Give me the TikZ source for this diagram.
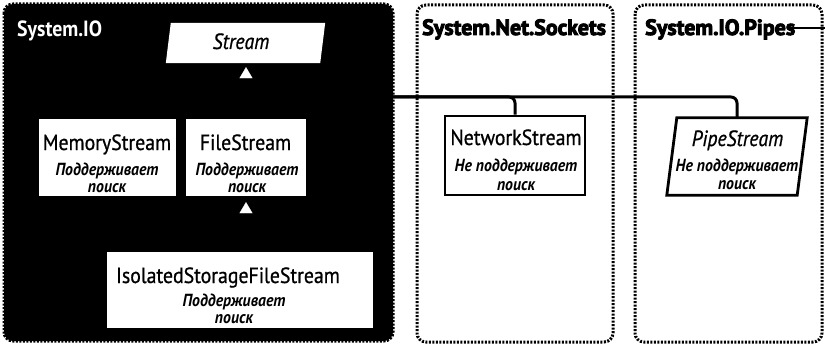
\documentclass[tikz,border=0pt]{standalone}
\usepackage{fontspec}
\setmainfont{PT Sans}[FakeStretch=0.9, UprightFeatures={FakeBold=0.8}, ItalicFeatures={FakeBold=0.8}]
\newfontfamily\heavyfont{PT Sans}[BoldFeatures={FakeBold=4}]
\usetikzlibrary{arrows.meta}

\tikzset{
  panel/.style={line width=3pt, dash pattern=on 2pt off 1.5pt, rounded corners=9pt},
  whitebox/.style={fill=white, inner sep=0pt},
  framebox/.style={draw=black, fill=white, line width=2.8pt, inner sep=0pt},
  shapebox/.style={inner sep=0pt},
  title/.style={inner sep=0pt, anchor=base, font=\fontsize{22}{26}\selectfont},
  ititle/.style={inner sep=0pt, anchor=base, font=\fontsize{22}{26}\selectfont\itshape},
  sub/.style={inner sep=0pt, anchor=base, font=\fontsize{17.5}{20}\selectfont\bfseries\itshape},
  nslabel/.style={inner sep=0pt, anchor=base west, font=\fontsize{22}{26}\selectfont\bfseries},
  heavylabel/.style={inner sep=0pt, anchor=base west, font=\fontsize{22}{26}\selectfont\heavyfont\bfseries},
  link/.style={draw=black, line width=3pt},
  inherit/.style={-{Triangle[width=13pt,length=11pt,color=white,fill=white,line width=0.1pt]}},
}

\begin{document}
\begin{tikzpicture}[x=1pt, y=-1pt]
  \useasboundingbox (0,0) rectangle (825,345);

  % namespace panels
  \fill[black, rounded corners=9pt] (4,4) rectangle (393,341);
  \draw[panel, black] (4,4) rectangle (393,341);
  \draw[panel, fill=white] (417,5) rectangle (613,342);
  \draw[panel, fill=white] (635,5) rectangle (822,342);

  \node[nslabel, text=white] (ioLabel) at (17,37) {System.IO};
  \node[heavylabel] (netLabel) at (422,35) {System.Net.Sockets};
  \node[heavylabel] (pipesLabel) at (645,35) {System.IO.Pipes};
  \coordinate (pipesRule) at (825,28);
  \draw[line width=1.4pt] (pipesLabel.east |- pipesRule) ++(-8,0) -- (pipesRule);

  % abstract base class
  \node[shapebox, minimum width=154pt, minimum height=40pt] (stream) at (245.5,43) {};
  \fill[white] ([xshift=2.5pt]stream.north west) -- ([xshift=2.5pt]stream.north east)
    -- ([xshift=-2.5pt]stream.south east) -- ([xshift=-2.5pt]stream.south west) -- cycle;
  \node[ititle] (streamT) at (241,49) {Stream};

  % System.IO streams
  \node[whitebox, minimum width=137pt, minimum height=77pt] (mem) at (107.5,157.5) {};
  \node[title] (memA) at (107,150) {MemoryStream};
  \node[sub] (memB) at (107,175) {Поддерживает};
  \node[sub] (memC) at (107,192) {поиск};

  \node[whitebox, minimum width=120pt, minimum height=77pt] (file) at (246,157.5) {};
  \node[title] (fileA) at (245.5,150) {FileStream};
  \node[sub] (fileB) at (247,175) {Поддерживает};
  \node[sub] (fileC) at (247,192) {поиск};

  \node[whitebox, minimum width=266pt, minimum height=76pt] (iso) at (240,290) {};
  \node[title] (isoA) at (228,283) {IsolatedStorageFileStream};
  \node[sub] (isoB) at (234,306) {Поддерживает};
  \node[sub] (isoC) at (234,323) {поиск};

  % System.Net.Sockets
  \node[framebox, minimum width=140pt, minimum height=79pt] (net) at (515,155.5) {};
  \node[title] (netA) at (516,145) {NetworkStream};
  \node[sub] (netB) at (516,171) {Не поддерживает};
  \node[sub] (netC) at (516,190) {поиск};

  % System.IO.Pipes
  \node[shapebox, minimum width=130pt, minimum height=77pt] (pipe) at (737,156.5) {};
  \draw[line width=2.8pt, fill=white, line join=miter]
    ([xshift=5pt]pipe.north west) -- ([xshift=5pt]pipe.north east)
    -- ([xshift=-5pt]pipe.south east) -- ([xshift=-5pt]pipe.south west) -- cycle;
  \node[ititle] (pipeA) at (737.5,146) {PipeStream};
  \node[sub] (pipeB) at (737,171) {Не поддерживает};
  \node[sub] (pipeC) at (737,189) {поиск};

  % inheritance connectors
  \coordinate (bus) at (file.north |- 0,97);
  \draw[link] (mem.north) |- (bus);
  \draw[link, rounded corners=6pt] (bus) -| (net.north);
  \draw[link, rounded corners=6pt] (bus) -| (pipe.north);
  \draw[link, inherit, shorten >=4pt] (file.north) -- (file.north |- stream.south);
  \draw[link, inherit, shorten >=6pt] (iso.north -| file.south) -- (file.south);
\end{tikzpicture}
\end{document}
